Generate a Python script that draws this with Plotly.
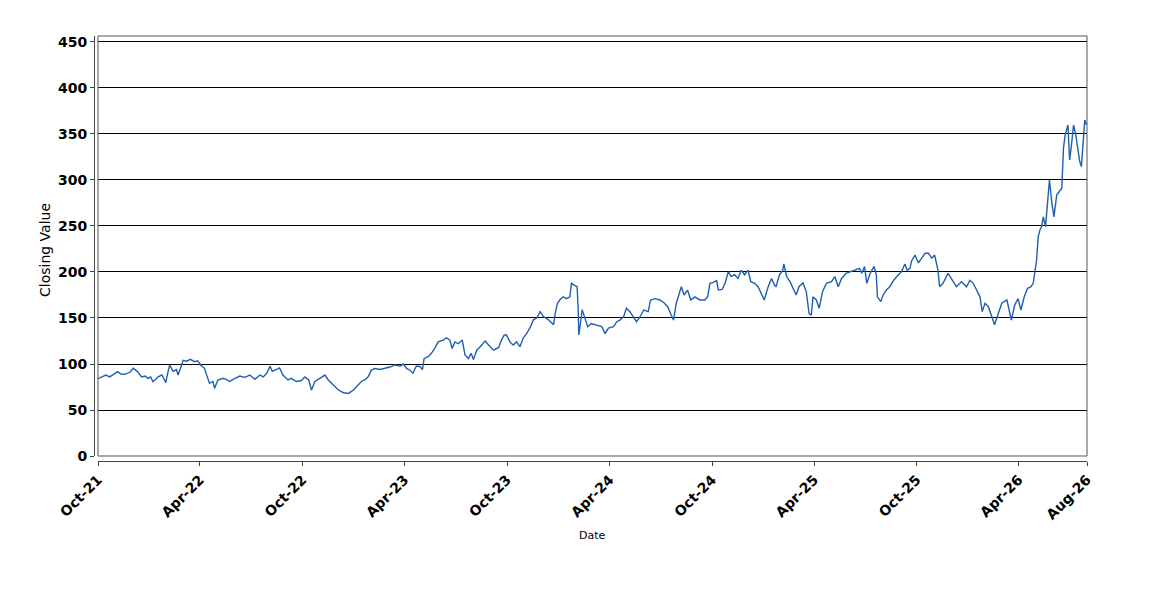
import plotly.graph_objects as go

# closing values (Oct 2021 - Aug 2026)
dates = [
    "2021-10-01", "2021-10-08", "2021-10-15", "2021-10-22", "2021-10-29",
    "2021-11-05", "2021-11-11", "2021-11-18", "2021-11-27", "2021-12-03",
    "2021-12-10", "2021-12-18", "2021-12-24", "2021-12-29",
    "2022-01-03", "2022-01-07", "2022-01-13", "2022-01-16", "2022-01-23", "2022-01-30",
    "2022-02-02", "2022-02-06", "2022-02-12", "2022-02-18", "2022-02-21", "2022-02-26",
    "2022-03-02", "2022-03-08", "2022-03-15", "2022-03-22", "2022-03-28",
    "2022-04-02", "2022-04-09", "2022-04-15", "2022-04-18", "2022-04-24", "2022-04-27",
    "2022-05-03", "2022-05-12", "2022-05-18", "2022-05-24", "2022-05-30",
    "2022-06-05", "2022-06-11", "2022-06-20", "2022-06-29",
    "2022-07-08", "2022-07-17", "2022-07-23", "2022-07-29",
    "2022-08-04", "2022-08-08", "2022-08-15", "2022-08-21", "2022-08-27",
    "2022-09-05", "2022-09-11", "2022-09-20", "2022-09-29",
    "2022-10-05", "2022-10-12", "2022-10-17", "2022-10-23", "2022-10-31",
    "2022-11-10", "2022-11-16", "2022-11-25",
    "2022-12-04", "2022-12-13", "2022-12-22", "2022-12-31",
    "2023-01-08", "2023-01-14", "2023-01-20", "2023-01-26",
    "2023-02-01", "2023-02-07", "2023-02-16", "2023-02-25",
    "2023-03-06", "2023-03-15", "2023-03-24", "2023-03-30",
    "2023-04-05", "2023-04-10", "2023-04-16", "2023-04-22", "2023-04-28",
    "2023-05-03", "2023-05-06", "2023-05-13", "2023-05-19", "2023-05-25", "2023-05-31",
    "2023-06-09", "2023-06-15", "2023-06-21", "2023-06-25", "2023-06-30",
    "2023-07-06", "2023-07-13", "2023-07-18", "2023-07-24", "2023-07-29",
    "2023-08-02", "2023-08-08", "2023-08-14", "2023-08-23", "2023-08-29",
    "2023-09-07", "2023-09-16", "2023-09-21", "2023-09-26", "2023-09-30",
    "2023-10-06", "2023-10-12", "2023-10-18", "2023-10-24", "2023-10-30",
    "2023-11-05", "2023-11-12", "2023-11-17", "2023-11-23", "2023-11-29",
    "2023-12-05", "2023-12-14", "2023-12-23", "2023-12-26", "2023-12-30",
    "2024-01-03", "2024-01-09", "2024-01-15", "2024-01-21", "2024-01-24", "2024-01-28",
    "2024-02-03", "2024-02-05", "2024-02-06", "2024-02-09", "2024-02-12", "2024-02-16",
    "2024-02-22", "2024-02-28",
    "2024-03-09", "2024-03-18", "2024-03-24", "2024-03-30",
    "2024-04-08", "2024-04-14", "2024-04-20", "2024-04-26",
    "2024-05-01", "2024-05-07", "2024-05-13", "2024-05-19", "2024-05-24",
    "2024-06-01", "2024-06-09", "2024-06-13", "2024-06-21", "2024-06-30",
    "2024-07-08", "2024-07-14", "2024-07-20", "2024-07-24", "2024-07-29",
    "2024-08-04", "2024-08-07", "2024-08-12", "2024-08-18", "2024-08-24", "2024-08-31",
    "2024-09-09", "2024-09-18", "2024-09-23", "2024-09-27",
    "2024-10-03", "2024-10-09", "2024-10-12", "2024-10-19", "2024-10-24", "2024-10-30",
    "2024-11-04", "2024-11-10", "2024-11-16", "2024-11-22", "2024-11-28",
    "2024-12-04", "2024-12-09", "2024-12-16", "2024-12-22", "2024-12-28",
    "2025-01-02", "2025-01-09", "2025-01-15", "2025-01-20", "2025-01-23", "2025-01-29",
    "2025-02-04", "2025-02-06", "2025-02-11", "2025-02-17", "2025-02-23", "2025-02-28",
    "2025-03-05", "2025-03-12", "2025-03-18", "2025-03-23", "2025-03-27", "2025-03-30",
    "2025-04-05", "2025-04-10", "2025-04-16", "2025-04-23",
    "2025-05-02", "2025-05-08", "2025-05-14", "2025-05-20", "2025-05-28",
    "2025-06-04", "2025-06-13", "2025-06-21", "2025-06-25", "2025-06-30",
    "2025-07-04", "2025-07-10", "2025-07-17", "2025-07-21", "2025-07-23", "2025-07-29",
    "2025-08-02", "2025-08-08", "2025-08-14", "2025-08-21", "2025-08-29",
    "2025-09-04", "2025-09-10", "2025-09-14", "2025-09-19", "2025-09-22", "2025-09-28",
    "2025-10-04", "2025-10-10", "2025-10-16", "2025-10-22", "2025-10-28",
    "2025-11-02", "2025-11-08", "2025-11-11", "2025-11-17", "2025-11-26",
    "2025-12-02", "2025-12-11", "2025-12-20", "2025-12-29",
    "2026-01-04", "2026-01-10", "2026-01-16", "2026-01-22", "2026-01-26", "2026-01-31",
    "2026-02-06", "2026-02-12", "2026-02-17", "2026-02-23",
    "2026-03-02", "2026-03-11", "2026-03-13", "2026-03-19", "2026-03-25", "2026-03-31",
    "2026-04-05", "2026-04-11", "2026-04-17", "2026-04-23", "2026-04-27",
    "2026-05-01", "2026-05-03", "2026-05-06", "2026-05-09", "2026-05-12", "2026-05-15",
    "2026-05-19", "2026-05-22", "2026-05-26", "2026-05-30",
    "2026-06-03", "2026-06-08", "2026-06-12", "2026-06-17", "2026-06-20", "2026-06-23",
    "2026-06-28", "2026-07-01", "2026-07-04", "2026-07-08", "2026-07-12", "2026-07-16",
    "2026-07-19", "2026-07-22", "2026-07-25", "2026-07-28", "2026-07-31",
]

closing = [
    84, 86, 88, 86, 89,
    91.7, 89, 88.8, 91, 95.3,
    92, 86, 87, 84.4,
    86, 80.8, 84, 86, 88, 79.7,
    89, 98.9, 92, 94, 88, 97,
    104, 103, 105, 102.5, 103.5,
    98.9, 95.3, 84.4, 79, 81, 73.6,
    82.6, 84.4, 83.3, 81, 83.3,
    85, 86.9, 85.5, 88,
    83.3, 88, 86, 89.9,
    97.5, 92, 94, 95.7, 88,
    82.6, 84.4, 81, 82,
    86, 82.6, 71.7, 81, 84.4,
    88, 82.6, 77,
    71.7, 68.8, 68, 71.7,
    77, 81, 82.6, 86,
    93.5, 95, 94, 95,
    96.7, 99, 97.5, 100,
    95, 93.5, 90, 97.5, 97.5,
    94, 106, 108, 111.6, 117, 124,
    126, 128.5, 126, 117, 124,
    122, 126, 109.8, 106, 111.6,
    105, 115, 118.8, 125, 120.6,
    115, 118, 126, 131.5, 131.5,
    124, 120.6, 124, 118.8, 128.5,
    133, 140.6, 148, 150, 157,
    151.5, 148, 142.6, 155, 165.9,
    169.5, 173, 171, 173, 187.7, 186,
    184, 159, 131.5, 144, 159, 151.5,
    140.6, 144,
    142.6, 140.6, 133, 139,
    140.6, 146, 148, 151.5,
    160.5, 157, 151.5, 146, 150,
    158.7, 157, 169.6, 171, 169.6,
    166, 162, 153, 147.8, 166,
    178.6, 184, 175, 180.4, 169.6, 173,
    169.6, 169.6, 173, 187.7,
    188.8, 190.6, 180.4, 181, 187.7, 200.4,
    195, 197, 193, 202, 197,
    202, 189.5, 187.7, 184, 177,
    169.6, 184, 193, 186, 184, 196.7,
    202, 208.7, 195, 189.5, 182.3, 175,
    184, 188.4, 178.6, 155, 153, 173,
    169.6, 160.5, 178.6, 187.7,
    189.5, 195, 184, 193, 198.6,
    200.4, 202, 204, 198.6, 206,
    187.7, 198.6, 206, 196.7, 173, 167.8,
    175, 180.4, 184, 191, 196.7,
    200.4, 208.7, 202, 204, 212, 218.5,
    209.8, 215, 220.3, 220.3, 215,
    218.5, 202, 184, 187.7, 198.6,
    193, 184, 189.5, 184,
    191, 187.7, 180.4, 173, 156.9, 166,
    162.3, 150, 142.6, 153.6,
    166, 169.6, 164, 147.8, 164, 171,
    158.7, 173, 182.3, 184, 187.7,
    209, 213, 238.4, 245.6, 249.3, 260,
    249.3, 274.6, 300, 276.4,
    260, 283.7, 287.3, 291, 334.4, 349,
    359.8, 321.7, 336.2, 359.8, 349, 331,
    320, 314.5, 343.5, 365.2, 360,
]

tick_dates = [
    "2021-10-01", "2022-04-01", "2022-10-01", "2023-04-01", "2023-10-01",
    "2024-04-01", "2024-10-01", "2025-04-01", "2025-10-01", "2026-04-01",
    "2026-08-01",
]
tick_labels = [
    "Oct-21", "Apr-22", "Oct-22", "Apr-23", "Oct-23",
    "Apr-24", "Oct-24", "Apr-25", "Oct-25", "Apr-26",
    "Aug-26",
]
y_ticks = [0, 50, 100, 150, 200, 250, 300, 350, 400, 450]

FONT = "DejaVu Sans"
tick_font = dict(family=FONT, size=14, color="black", weight="bold")

# the page body adds an 8px margin, so the figure is drawn 8px smaller
W, H = 1142, 592
ML, MR, MT, MB = 86, 63, 28, 139
PW = W - ML - MR   # 993
PH = H - MT - MB   # 425

fig = go.Figure()
fig.add_trace(go.Scatter(
    x=dates,
    y=closing,
    mode="lines",
    line=dict(color="#1f5fae", width=1.4),
    showlegend=False,
))

fig.update_layout(
    width=W,
    height=H,
    margin=dict(l=ML, r=MR, t=MT, b=MB),
    paper_bgcolor="white",
    plot_bgcolor="white",
    font=dict(family=FONT, color="black"),
    xaxis=dict(
        domain=[4 / PW, 1],
        anchor="free",
        position=0,
        range=["2021-10-01", "2026-08-01"],
        tickmode="array",
        tickvals=tick_dates,
        ticktext=tick_labels,
        tickangle=-45,
        tickfont=tick_font,
        ticks="outside",
        ticklen=4,
        tickcolor="#444",
        showline=True,
        linecolor="#444",
        linewidth=1,
        showgrid=False,
        zeroline=False,
        automargin=False,
    ),
    yaxis=dict(
        domain=[5 / PH, 1],
        anchor="free",
        position=0,
        range=[0, 456.5],
        tickmode="array",
        tickvals=y_ticks,
        tickfont=tick_font,
        ticks="outside",
        ticklen=4,
        tickcolor="#444",
        showline=True,
        linecolor="#444",
        linewidth=1,
        showgrid=True,
        gridcolor="black",
        gridwidth=1,
        zeroline=False,
        automargin=False,
    ),
    shapes=[dict(
        type="rect", xref="x domain", yref="y domain",
        x0=0, x1=1, y0=0, y1=1,
        line=dict(color="#555", width=1),
        layer="above",
    )],
    annotations=[
        dict(text="Date", xref="paper", yref="paper",
             x=(592 - 94) / PW, y=-(535 - 461) / PH,
             xanchor="center", yanchor="middle", showarrow=False,
             font=dict(family=FONT, size=11, color="black")),
        dict(text="Closing Value", xref="paper", yref="paper",
             x=-(94 - 45) / PW, y=(456 - 245) / PH,
             xanchor="center", yanchor="middle", showarrow=False,
             textangle=-90,
             font=dict(family=FONT, size=14, color="black")),
    ],
)

fig.write_html("out.html")
